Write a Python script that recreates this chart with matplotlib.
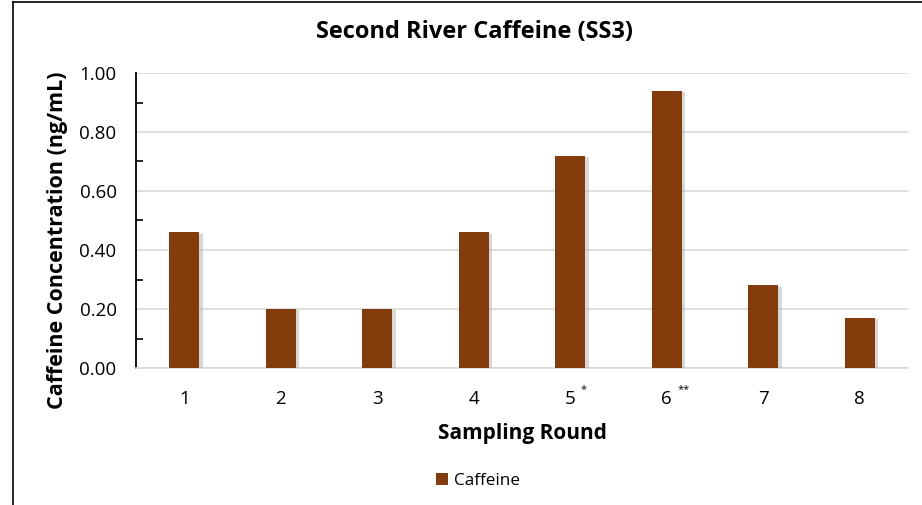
import matplotlib.pyplot as plt
import matplotlib.patheffects as pe
from matplotlib.lines import Line2D
from matplotlib.patches import Patch
from matplotlib.ticker import MultipleLocator, FormatStrFormatter
import matplotlib.transforms as mtransforms

rounds = ['1', '2', '3', '4', '5', '6', '7', '8']
marks = ['', '', '', '', '*', '**', '', '']
caffeine = [0.46, 0.20, 0.20, 0.46, 0.72, 0.94, 0.28, 0.17]

bar_color = '#843C0C'
plt.rcParams['font.family'] = ['Open Sans', 'DejaVu Sans']

fig = plt.figure(figsize=(9.22, 5.05), dpi=100)
ax = fig.add_axes([136 / 922, 1 - 368 / 505, (908 - 136) / 922, (368 - 73) / 505])

x = list(range(len(rounds)))
bars = ax.bar(x, caffeine, width=0.31, color=bar_color, zorder=3)
for b in bars:
    b.set_path_effects([pe.SimplePatchShadow(offset=(2.5, -1), shadow_rgbFace='#aaaaaa', alpha=0.45),
                        pe.Normal()])

ax.set_xlim(-0.5, len(rounds) - 0.5)
ax.set_ylim(0, 1.0)
ax.yaxis.set_major_locator(MultipleLocator(0.2))
ax.yaxis.set_minor_locator(MultipleLocator(0.1))
ax.yaxis.set_major_formatter(FormatStrFormatter('%.2f'))
ax.grid(axis='y', color='#d9d9d9', linewidth=1.2, zorder=0)
ax.set_axisbelow(True)

ax.set_xticks(x)
ax.set_xticklabels(rounds)
ax.tick_params(axis='x', length=0, labelsize=13.5, pad=16, colors='#000000')
ax.tick_params(axis='y', which='major', length=0, labelsize=13.5, pad=14)
ax.tick_params(axis='y', which='minor', direction='in', length=5, width=1.2)

# footnote marks next to round labels
trans = mtransforms.blended_transform_factory(ax.transData, ax.transAxes)
for i, m in enumerate(marks):
    if m:
        ax.text(i + 0.11, -0.072, m, transform=trans, fontsize=8, ha='left', va='center')

for s in ['top', 'right']:
    ax.spines[s].set_visible(False)
ax.spines['left'].set_linewidth(1.3)
ax.spines['left'].set_color('#000000')
ax.spines['bottom'].set_color('#d9d9d9')
ax.spines['bottom'].set_linewidth(1.2)

ax.set_xlabel('Sampling Round', fontsize=15, fontweight='bold', labelpad=11)
ax.set_ylabel('Caffeine Concentration (ng/mL)', fontsize=15.5, fontweight='bold',
              labelpad=8, y=0.434)
fig.text(475 / 922, 1 - 32 / 505, 'Second River Caffeine (SS3)', fontsize=17,
         fontweight='bold', ha='center', va='center')

proxy = Patch(facecolor=bar_color)
ax.legend([proxy], ['Caffeine'], loc='center', bbox_to_anchor=(478 / 922, 1 - 481 / 505),
          bbox_transform=fig.transFigure, frameon=False, fontsize=12.3,
          handlelength=0.7, handleheight=0.7, handletextpad=0.4)

# chart border (left and top)
fig.add_artist(Line2D([13 / 922, 13 / 922], [0, 1 - 2 / 505], color='#000000', linewidth=1.2))
fig.add_artist(Line2D([13 / 922, 1], [1 - 2 / 505, 1 - 2 / 505], color='#000000', linewidth=1.2))

fig.savefig('out.png', dpi=100)
